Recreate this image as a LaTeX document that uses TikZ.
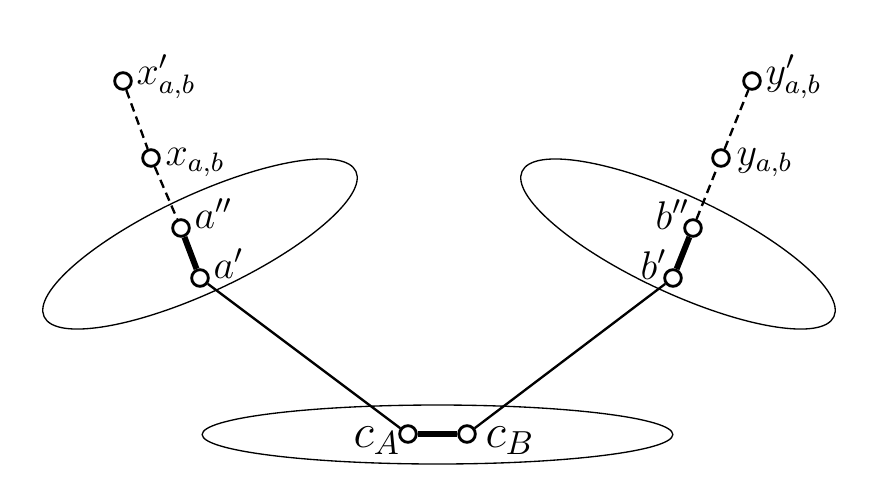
\documentclass[tikz,border=0pt]{standalone}
\begin{document}
\begin{tikzpicture}[x=0.3pt,y=-0.3pt,
  vtx/.style={circle,draw,fill=white,line width=0.85pt,minimum size=5.0pt,inner sep=0pt},
  lbl/.style={inner sep=0pt,anchor=base west,font=\large},
  bigl/.style={inner sep=0pt,anchor=base west,font=\Large},
  ell/.style={line width=0.4pt},
  thin/.style={line width=0.7pt},
  dashedge/.style={line width=0.7pt,dash pattern=on 2.6pt off 1.6pt},
  thickedge/.style={line width=1.8pt}]
\useasboundingbox (0,0) rectangle (880,487);
% ellipses
\draw[ell,rotate around={25:(200,244)}] (200,244) ellipse [x radius=51.6pt,y radius=14.6pt];
\draw[ell,rotate around={-25:(678,244)}] (678,244) ellipse [x radius=51.6pt,y radius=14.6pt];
\draw[ell] (437.5,434.5) ellipse [x radius=70.6pt,y radius=8.85pt];
% vertices
\node[vtx] (xp) at (123,81) {};
\node[vtx] (x) at (151,158) {};
\node[vtx] (app) at (181,228) {};
\node[vtx] (ap) at (200,278) {};
\node[vtx] (cA) at (408,434) {};
\node[vtx] (cB) at (467,434) {};
\node[vtx] (bp) at (673,278) {};
\node[vtx] (bpp) at (693,228) {};
\node[vtx] (y) at (721,158) {};
\node[vtx] (yp) at (752,81) {};
% edges
\draw[dashedge] (xp) -- (x);
\draw[dashedge] (x) -- (app);
\draw[thickedge] (app) -- (ap);
\draw[thin] (ap) -- (cA);
\draw[thickedge] (cA) -- (cB);
\draw[thin] (cB) -- (bp);
\draw[thickedge] (bp) -- (bpp);
\draw[dashedge] (bpp) -- (y);
\draw[dashedge] (y) -- (yp);
% labels
\node[lbl] (lxp) at (136,84) {$x'_{a,b}$};
\node[lbl] (lx) at (165,165) {$x_{a,b}$};
\node[lbl] (lapp) at (194,228) {$a''$};
\node[lbl] (lap) at (213,278) {$a'$};
\node[lbl] (lbpp) at (655,229) {$b''$};
\node[lbl] (lbp) at (640,279) {$b'$};
\node[lbl] (ly) at (736,165) {$y_{a,b}$};
\node[lbl] (lyp) at (765,84) {$y'_{a,b}$};
\node[bigl] (lcA) at (353,447) {$c_A$};
\node[bigl] (lcB) at (485,447) {$c_B$};
\end{tikzpicture}
\end{document}
